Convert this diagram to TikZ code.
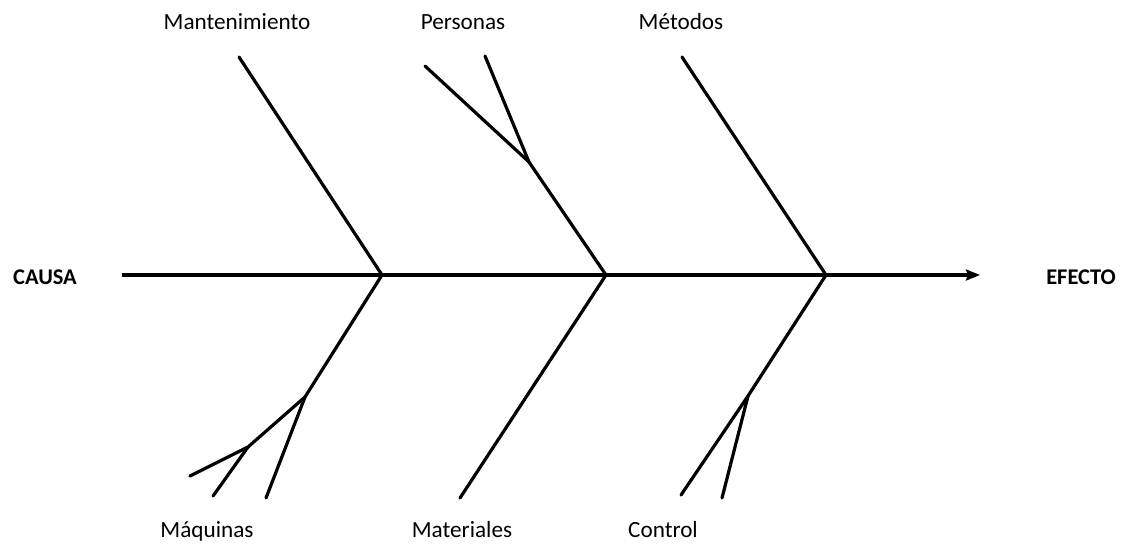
\documentclass[tikz,border=0pt]{standalone}
\usepackage{fontspec}
\setmainfont{Carlito}
\usetikzlibrary{arrows.meta}
\begin{document}
\begin{tikzpicture}[x=1pt,y=-1pt,
  bone/.style={line width=3.2pt,line cap=round},
  lbl/.style={font=\fontsize{23.2}{27}\selectfont,inner sep=0pt,anchor=base},
  endlbl/.style={font=\fontsize{22.4}{26}\selectfont\bfseries,inner sep=0pt}]
\useasboundingbox (0,0) rectangle (1126,548);
% spine
\coordinate (s0) at (122,275);
\coordinate (j1) at (382,275);
\coordinate (j2) at (606,275);
\coordinate (j3) at (826,275);
\coordinate (s1) at (980,275);
\node[endlbl] (causa) at (45,277) {CAUSA};
\node[endlbl] (efecto) at (1081,277) {EFECTO};
\draw[bone,line cap=butt,-{Stealth[length=14pt,width=11pt,inset=2pt]}] (s0) -- (s1);
% top branches
\coordinate (m1) at (239,57);
\draw[bone] (j1) -- (m1);
\coordinate (pj) at (529,162);
\coordinate (p1) at (485,56);
\coordinate (p2) at (425,66);
\draw[bone] (j2) -- (pj) -- (p1);
\draw[bone] (pj) -- (p2);
\coordinate (t1) at (682,57);
\draw[bone] (j3) -- (t1);
% bottom branches
\coordinate (qj1) at (305,397);
\coordinate (qj2) at (248,447);
\coordinate (q1) at (190,476);
\coordinate (q2) at (213,496);
\coordinate (q3) at (266,498);
\draw[bone] (j1) -- (qj1) -- (qj2) -- (q1);
\draw[bone] (qj2) -- (q2);
\draw[bone] (qj1) -- (q3);
\coordinate (r1) at (460,498);
\draw[bone] (j2) -- (r1);
\coordinate (cj) at (748,396);
\coordinate (c1) at (681,495);
\coordinate (c2) at (722,498);
\draw[bone] (j3) -- (cj) -- (c1);
\draw[bone] (cj) -- (c2);
% labels
\node[lbl] (lman) at (237,30) {Mantenimiento};
\node[lbl] (lper) at (463,30) {Personas};
\node[lbl] (lmet) at (681,30) {Métodos};
\node[lbl] (lmaq) at (207,537) {Máquinas};
\node[lbl] (lmat) at (462,537) {Materiales};
\node[lbl] (lcon) at (663,537) {Control};
\end{tikzpicture}
\end{document}
